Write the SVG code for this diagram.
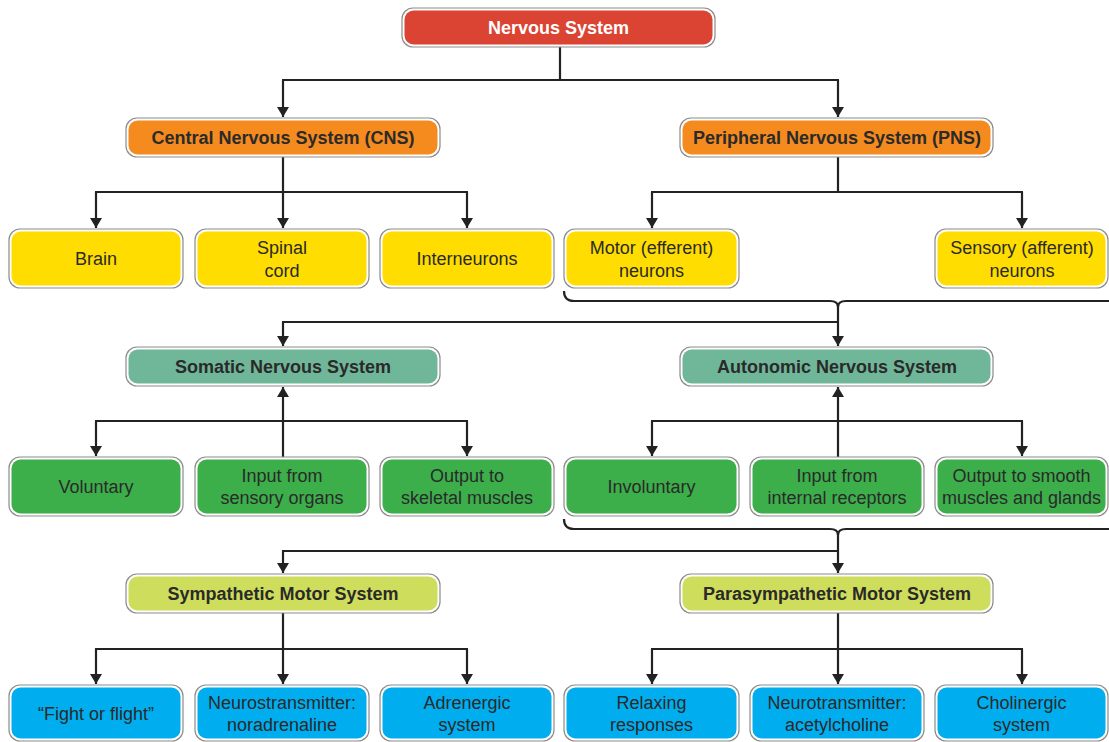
<svg xmlns="http://www.w3.org/2000/svg" width="1109" height="742" viewBox="0 0 1109 742">
<style>
.o{fill:#fff;stroke:#8c8c8c;stroke-width:1.2}
.t{font-family:"Liberation Sans",Arial,sans-serif;font-size:18px;fill:#2a2a2a;text-anchor:middle}
.b{font-weight:bold}
.w{fill:#fff}
.c path{fill:none;stroke:#222;stroke-width:2.2}
.red{fill:#db4332}.org{fill:#f58a1f}.yel{fill:#ffdd00}.teal{fill:#70b79a}.grn{fill:#3cae4a}.lg{fill:#cfdd5c}.blu{fill:#00adef}
</style>
<defs>
<marker id="ar" viewBox="0 0 10 12" refX="10" refY="6" markerWidth="10" markerHeight="12" markerUnits="userSpaceOnUse" orient="auto">
<path d="M0,0 L10,6 L0,12 z" fill="#222"/>
</marker>
</defs>
<g class="c">
<path d="M560 47 V80 M282 80 H839"/>
<path d="M283 80 V117" marker-end="url(#ar)"/>
<path d="M838 80 V117" marker-end="url(#ar)"/>
<path d="M283 157 V192 M95 192 H468"/>
<path d="M96 192 V228" marker-end="url(#ar)"/>
<path d="M283 192 V228" marker-end="url(#ar)"/>
<path d="M467 192 V228" marker-end="url(#ar)"/>
<path d="M838 157 V192 M651 192 H1023"/>
<path d="M652 192 V228" marker-end="url(#ar)"/>
<path d="M1022 192 V228" marker-end="url(#ar)"/>
<path d="M564 291 Q564 301 574 301 H830 Q838 301 838 307 Q838 301 846 301 H1109"/>
<path d="M838 305 V346" marker-end="url(#ar)"/>
<path d="M282 322 H838"/>
<path d="M283 322 V346" marker-end="url(#ar)"/>
<path d="M283 457 V387" marker-end="url(#ar)"/>
<path d="M95 421 H468"/>
<path d="M96 421 V456" marker-end="url(#ar)"/>
<path d="M467 421 V456" marker-end="url(#ar)"/>
<path d="M838 457 V387" marker-end="url(#ar)"/>
<path d="M651 421 H1023"/>
<path d="M652 421 V456" marker-end="url(#ar)"/>
<path d="M1022 421 V456" marker-end="url(#ar)"/>
<path d="M564 519 Q564 529 574 529 H830 Q838 529 838 535 Q838 529 846 529 H1109"/>
<path d="M838 533 V573" marker-end="url(#ar)"/>
<path d="M282 551 H838"/>
<path d="M283 551 V573" marker-end="url(#ar)"/>
<path d="M283 613 V649 M95 649 H468"/>
<path d="M96 649 V684" marker-end="url(#ar)"/>
<path d="M283 649 V684" marker-end="url(#ar)"/>
<path d="M467 649 V684" marker-end="url(#ar)"/>
<path d="M838 613 V649 M651 649 H1023"/>
<path d="M652 649 V684" marker-end="url(#ar)"/>
<path d="M838 649 V684" marker-end="url(#ar)"/>
<path d="M1022 649 V684" marker-end="url(#ar)"/>
</g>
<g id="nervous"><rect class="o" x="402" y="8" width="313" height="39" rx="11"/><rect class="red" x="404.5" y="10.5" width="308" height="34" rx="9"/><text class="t b w" x="558.5" y="33.5">Nervous System</text></g>
<g id="cns"><rect class="o" x="126" y="118" width="314" height="39" rx="11"/><rect class="org" x="128.5" y="120.5" width="309" height="34" rx="9"/><text class="t b" x="283" y="143.5">Central Nervous System (CNS)</text></g>
<g id="pns"><rect class="o" x="680" y="118" width="313" height="39" rx="11"/><rect class="org" x="682.5" y="120.5" width="308" height="34" rx="9"/><text class="t b" x="837" y="143.5">Peripheral Nervous System (PNS)</text></g>
<g id="brain"><rect class="o" x="9" y="229" width="174" height="59" rx="11"/><rect class="yel" x="11.5" y="231.5" width="169" height="54" rx="9"/><text class="t" x="96" y="264.5">Brain</text></g>
<g id="spinal"><rect class="o" x="195" y="229" width="174" height="59" rx="11"/><rect class="yel" x="197.5" y="231.5" width="169" height="54" rx="9"/><text class="t" x="282" y="254">Spinal</text><text class="t" x="282" y="277">cord</text></g>
<g id="inter"><rect class="o" x="380" y="229" width="174" height="59" rx="11"/><rect class="yel" x="382.5" y="231.5" width="169" height="54" rx="9"/><text class="t" x="467" y="264.5">Interneurons</text></g>
<g id="motor"><rect class="o" x="564" y="229" width="175" height="59" rx="11"/><rect class="yel" x="566.5" y="231.5" width="170" height="54" rx="9"/><text class="t" x="651.5" y="254">Motor (efferent)</text><text class="t" x="651.5" y="277">neurons</text></g>
<g id="sensory"><rect class="o" x="935" y="229" width="173" height="59" rx="11"/><rect class="yel" x="937.5" y="231.5" width="168" height="54" rx="9"/><text class="t" x="1022" y="254">Sensory (afferent)</text><text class="t" x="1022" y="277">neurons</text></g>
<g id="somatic"><rect class="o" x="126" y="347" width="314" height="39" rx="11"/><rect class="teal" x="128.5" y="349.5" width="309" height="34" rx="9"/><text class="t b" x="283" y="372.5">Somatic Nervous System</text></g>
<g id="autonomic"><rect class="o" x="680" y="347" width="313" height="39" rx="11"/><rect class="teal" x="682.5" y="349.5" width="308" height="34" rx="9"/><text class="t b" x="837" y="372.5">Autonomic Nervous System</text></g>
<g id="voluntary"><rect class="o" x="9" y="457" width="174" height="59" rx="11"/><rect class="grn" x="11.5" y="459.5" width="169" height="54" rx="9"/><text class="t" x="96" y="493">Voluntary</text></g>
<g id="input-sens"><rect class="o" x="195" y="457" width="174" height="59" rx="11"/><rect class="grn" x="197.5" y="459.5" width="169" height="54" rx="9"/><text class="t" x="282" y="482">Input from</text><text class="t" x="282" y="504">sensory organs</text></g>
<g id="output-skel"><rect class="o" x="380" y="457" width="174" height="59" rx="11"/><rect class="grn" x="382.5" y="459.5" width="169" height="54" rx="9"/><text class="t" x="467" y="482">Output to</text><text class="t" x="467" y="504">skeletal muscles</text></g>
<g id="involuntary"><rect class="o" x="564" y="457" width="175" height="59" rx="11"/><rect class="grn" x="566.5" y="459.5" width="170" height="54" rx="9"/><text class="t" x="651.5" y="493">Involuntary</text></g>
<g id="input-int"><rect class="o" x="750" y="457" width="174" height="59" rx="11"/><rect class="grn" x="752.5" y="459.5" width="169" height="54" rx="9"/><text class="t" x="837" y="482">Input from</text><text class="t" x="837" y="504">internal receptors</text></g>
<g id="output-smooth"><rect class="o" x="935" y="457" width="173" height="59" rx="11"/><rect class="grn" x="937.5" y="459.5" width="168" height="54" rx="9"/><text class="t" x="1021.5" y="482">Output to smooth</text><text class="t" x="1021.5" y="504">muscles and glands</text></g>
<g id="sympathetic"><rect class="o" x="126" y="574" width="314" height="39" rx="11"/><rect class="lg" x="128.5" y="576.5" width="309" height="34" rx="9"/><text class="t b" x="283" y="599.5">Sympathetic Motor System</text></g>
<g id="parasympathetic"><rect class="o" x="680" y="574" width="313" height="39" rx="11"/><rect class="lg" x="682.5" y="576.5" width="308" height="34" rx="9"/><text class="t b" x="837" y="599.5">Parasympathetic Motor System</text></g>
<g id="fight"><rect class="o" x="9" y="685" width="174" height="56" rx="11"/><rect class="blu" x="11.5" y="687.5" width="169" height="51" rx="9"/><text class="t" x="96" y="720">“Fight or flight”</text></g>
<g id="noradrenaline"><rect class="o" x="195" y="685" width="174" height="56" rx="11"/><rect class="blu" x="197.5" y="687.5" width="169" height="51" rx="9"/><text class="t" x="282" y="709">Neurostransmitter:</text><text class="t" x="282" y="731">noradrenaline</text></g>
<g id="adrenergic"><rect class="o" x="380" y="685" width="174" height="56" rx="11"/><rect class="blu" x="382.5" y="687.5" width="169" height="51" rx="9"/><text class="t" x="467" y="709">Adrenergic</text><text class="t" x="467" y="731">system</text></g>
<g id="relaxing"><rect class="o" x="564" y="685" width="175" height="56" rx="11"/><rect class="blu" x="566.5" y="687.5" width="170" height="51" rx="9"/><text class="t" x="651.5" y="709">Relaxing</text><text class="t" x="651.5" y="731">responses</text></g>
<g id="acetylcholine"><rect class="o" x="750" y="685" width="174" height="56" rx="11"/><rect class="blu" x="752.5" y="687.5" width="169" height="51" rx="9"/><text class="t" x="837" y="709">Neurotransmitter:</text><text class="t" x="837" y="731">acetylcholine</text></g>
<g id="cholinergic"><rect class="o" x="935" y="685" width="173" height="56" rx="11"/><rect class="blu" x="937.5" y="687.5" width="168" height="51" rx="9"/><text class="t" x="1021.5" y="709">Cholinergic</text><text class="t" x="1021.5" y="731">system</text></g>
</svg>
